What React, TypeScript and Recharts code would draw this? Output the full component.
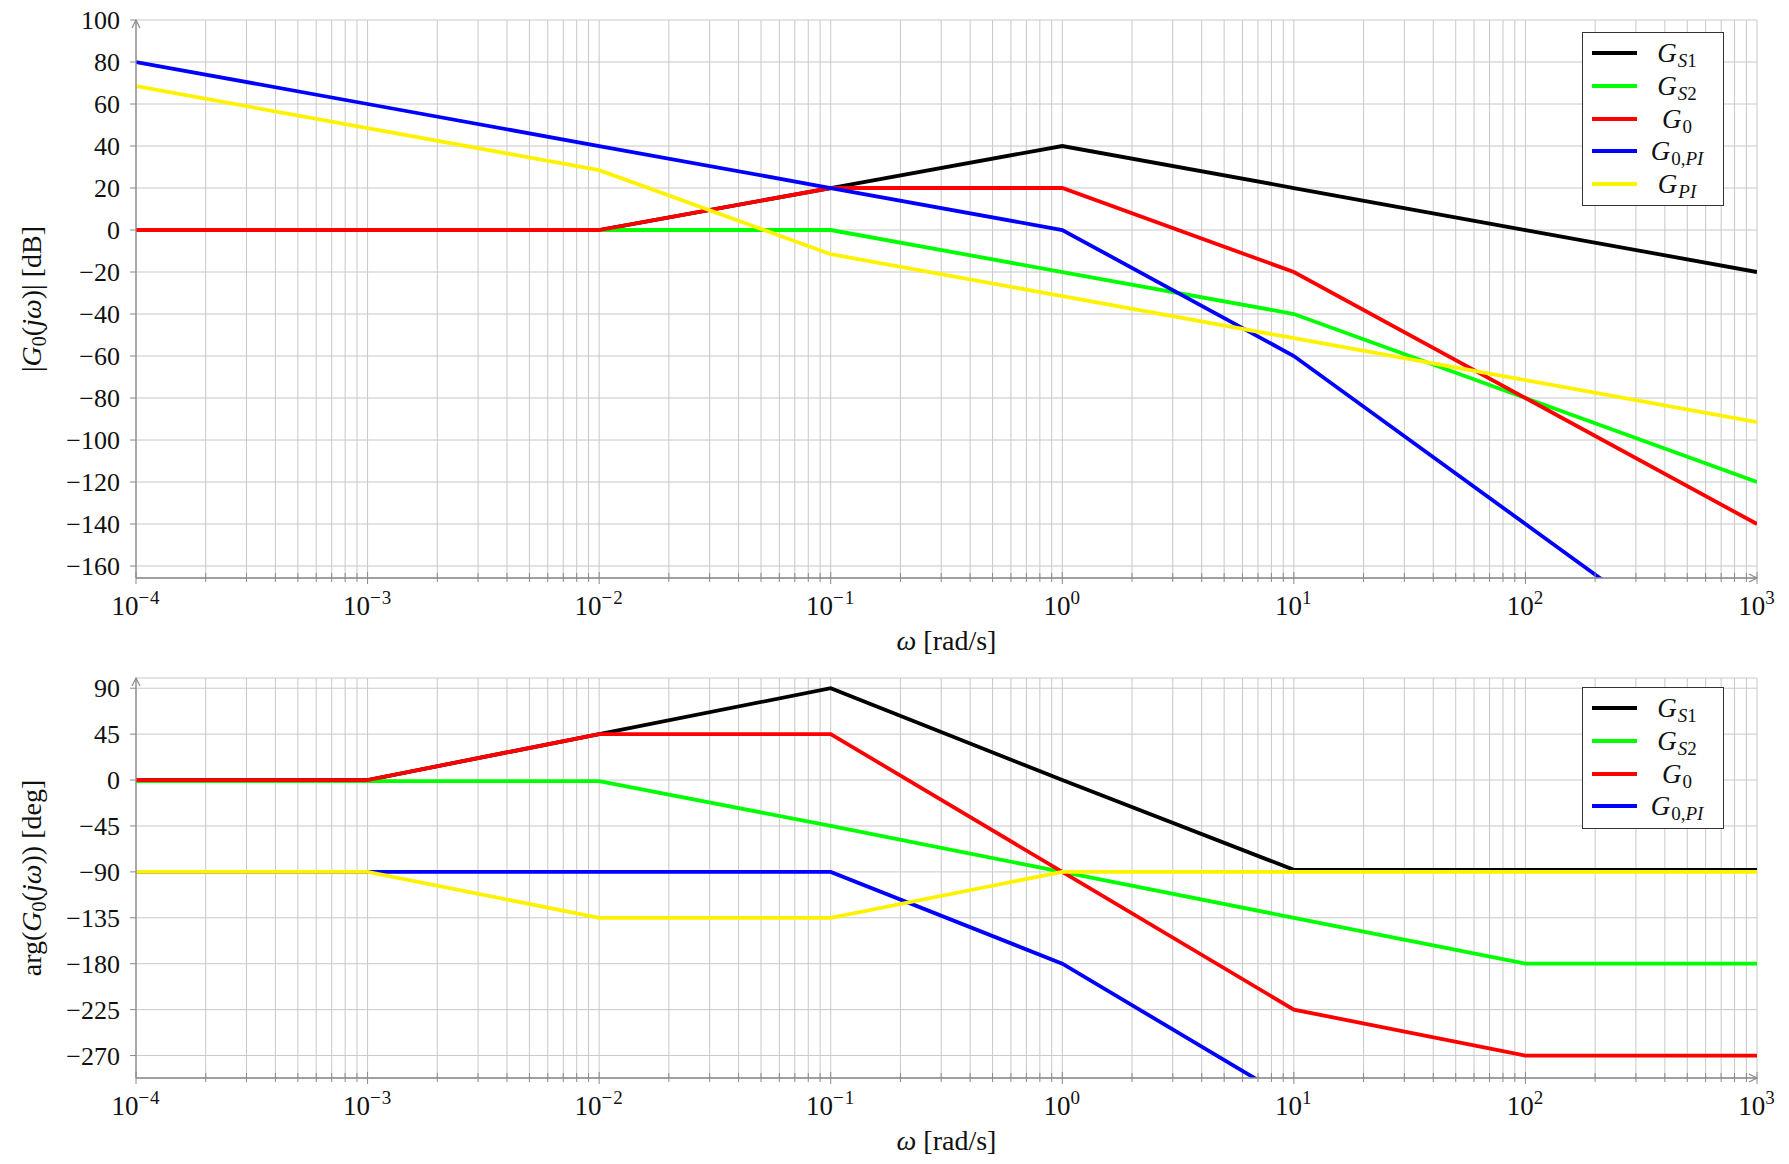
import React from 'react';
import { LineChart, Line, XAxis, YAxis, CartesianGrid, Legend, ReferenceDot } from 'recharts';

// ---------- data ----------
const omega = [1e-4, 1e-3, 1e-2, 1e-1, 1, 10, 100, 1000];

// magnitude [dB]
const magGS1 = [0, 0, 0, 20, 40, 20, 0, -20];
const magGS2 = [0, 0, 0, 0, -20, -40, -80, -120];
const magG0 = [0, 0, 0, 20, 20, -20, -80, -140];
const magG0PI = [80, 60, 40, 20, 0, -60, -140, -220];
const magGPI = [68.5, 48.5, 28.5, -11.5, -31.5, -51.5, -71.5, -91.5];

// phase [deg]
const phGS1 = [0, 0, 45, 90, 0, -88, -88, -88];
const phGS2 = [-1, -1, -1, -45, -90, -135, -180, -180];
const phG0 = [0, 0, 45, 45, -90, -225, -270, -270];
const phG0PI = [-90, -90, -90, -90, -180, -315, -360, -360];
const phGPI = [-90, -90, -135, -135, -90, -90, -90, -90];

const xExponents = [-4, -3, -2, -1, 0, 1, 2, 3];
const magTicks = [100, 80, 60, 40, 20, 0, -20, -40, -60, -80, -100, -120, -140, -160];
const phaseTicks = [90, 45, 0, -45, -90, -135, -180, -225, -270];
const magDomain = [-165.7, 100];
const phaseDomain = [-292, 100];

const seriesKeys = ['S1', 'S2', 'Z', 'ZPI', 'PI'];
const seriesSubs = ['S1', 'S2', '0', '0,PI', 'PI'];
const seriesColors = ['#000000', '#00ff00', '#ff0000', '#0000ff', '#fff200'];

const magData = omega.map((w, i) => ({ w, S1: magGS1[i], S2: magGS2[i], Z: magG0[i], ZPI: magG0PI[i], PI: magGPI[i] }));
const phaseData = omega.map((w, i) => ({ w, S1: phGS1[i], S2: phGS2[i], Z: phG0[i], ZPI: phG0PI[i], PI: phGPI[i] }));

const majorTicks = xExponents.map((e) => Math.pow(10, e));
const xTicks: number[] = [];
xExponents.forEach((e, idx) => {
  xTicks.push(Math.pow(10, e));
  if (idx < xExponents.length - 1) {
    for (let k = 2; k <= 9; k++) xTicks.push(k * Math.pow(10, e));
  }
});

const FONT = '"Liberation Serif", "DejaVu Serif", serif';
const AXIS = '#8a8a8a';
const GRID = '#c8c8c8';

const fmtNum = (v: number) => (v < 0 ? '\u2212' + Math.abs(v) : String(v));

const XTick = (props: any) => {
  const { x, y, payload } = props;
  const v = payload.value;
  const e = Math.round(Math.log10(v));
  const isMajor = majorTicks.some((m) => Math.abs(m - v) < m * 1e-6);
  if (!isMajor) {
    return <line x1={x} x2={x} y1={y - 5} y2={y + 4} stroke={AXIS} strokeWidth={1} />;
  }
  return (
    <g>
      <line x1={x} x2={x} y1={y - 6} y2={y + 6} stroke={AXIS} strokeWidth={1} />
      <text x={x} y={y + 37} textAnchor="middle" fontFamily={FONT} fontSize={27} fill="#111">
        <tspan>10</tspan>
        <tspan dy={-11} fontSize={19} letterSpacing={1}>{fmtNum(e)}</tspan>
      </text>
    </g>
  );
};

const YTick = (props: any) => {
  const { x, y, payload } = props;
  return (
    <g>
      <line x1={x - 6} x2={x} y1={y} y2={y} stroke={AXIS} strokeWidth={1} />
      <text x={x - 16} y={y + 9} textAnchor="end" fontFamily={FONT} fontSize={26} fill="#111">
        {fmtNum(payload.value)}
      </text>
    </g>
  );
};

const XTitle = (props: any) => {
  const vb = props.viewBox || { x: 136, y: 578, width: 1621 };
  const cx = vb.x + vb.width / 2;
  return (
    <text x={cx} y={vb.y + 72} textAnchor="middle" fontFamily={FONT} fontSize={28} fill="#111">
      <tspan fontStyle="italic">ω</tspan>
      <tspan> [rad/s]</tspan>
    </text>
  );
};

const makeYTitle = (kind: 'mag' | 'phase') => (props: any) => {
  const vb = props.viewBox || { x: 0, y: 20, width: 136, height: 558 };
  const cx = 41;
  const cy = vb.y + vb.height / 2;
  return (
    <text
      x={cx}
      y={cy}
      transform={`rotate(-90 ${cx} ${cy})`}
      textAnchor="middle"
      fontFamily={FONT}
      fontSize={28}
      fill="#111"
    >
      {kind === 'mag' ? (
        <>
          <tspan>|</tspan>
          <tspan fontStyle="italic">G</tspan>
          <tspan fontSize={20} dy={5}>0</tspan>
          <tspan dy={-5}>(</tspan>
          <tspan fontStyle="italic">jω</tspan>
          <tspan>)| [dB]</tspan>
        </>
      ) : (
        <>
          <tspan>arg(</tspan>
          <tspan fontStyle="italic">G</tspan>
          <tspan fontSize={20} dy={5}>0</tspan>
          <tspan dy={-5}>(</tspan>
          <tspan fontStyle="italic">jω</tspan>
          <tspan>)) [deg]</tspan>
        </>
      )}
    </text>
  );
};

const renderSub = (s: string) =>
  s.split('').map((ch, i) => (
    <span key={i} style={{ fontStyle: /[A-Za-z]/.test(ch) ? 'italic' : 'normal' }}>
      {ch}
    </span>
  ));

const LegendBox = (props: any) => {
  const items = (props.payload || [])
    .filter((p: any) => p.type !== 'none')
    .slice()
    .sort((a: any, b: any) => seriesKeys.indexOf(a.dataKey) - seriesKeys.indexOf(b.dataKey));
  return (
    <div
      style={{
        width: 142,
        boxSizing: 'border-box',
        border: '1.3px solid #333',
        background: '#fff',
        padding: '4px 0 5px 0',
        fontFamily: FONT,
        color: '#111',
      }}
    >
      {items.map((it: any) => {
        const idx = seriesKeys.indexOf(it.dataKey);
        return (
          <div key={it.dataKey} style={{ height: 32.7, display: 'flex', alignItems: 'center' }}>
            <div style={{ marginLeft: 9, width: 45, height: 4, background: it.color }} />
            <div style={{ width: 80, textAlign: 'center', fontSize: 27, lineHeight: '24px', whiteSpace: 'nowrap' }}>
              <span style={{ fontStyle: 'italic' }}>G</span>
              <span style={{ fontSize: 19, lineHeight: '18px', position: 'relative', top: 5, marginLeft: 1 }}>
                {renderSub(seriesSubs[idx])}
              </span>
            </div>
          </div>
        );
      })}
    </div>
  );
};

const ArrowRight = (p: any) => (
  <path d={`M${p.cx - 8},${p.cy - 4} L${p.cx},${p.cy} L${p.cx - 8},${p.cy + 4}`} fill="none" stroke={AXIS} strokeWidth={1.2} />
);
const ArrowUp = (p: any) => (
  <path d={`M${p.cx - 4},${p.cy + 8} L${p.cx},${p.cy} L${p.cx + 4},${p.cy + 8}`} fill="none" stroke={AXIS} strokeWidth={1.2} />
);

const renderLines = (hideLast: boolean) =>
  seriesKeys.map((k, i) => (
    <Line
      key={k}
      type="linear"
      dataKey={k}
      name={k}
      stroke={seriesColors[i]}
      strokeWidth={3.8}
      dot={false}
      activeDot={false}
      isAnimationActive={false}
      legendType={hideLast && k === 'PI' ? 'none' : 'line'}
    />
  ));

const Panel = (props: {
  data: any[];
  height: number;
  top: number;
  xHeight: number;
  domain: number[];
  ticks: number[];
  kind: 'mag' | 'phase';
  legendTop: number;
  hideLast: boolean;
}) => (
  <LineChart
    width={1789}
    height={props.height}
    data={props.data}
    margin={{ top: props.top, right: 32, bottom: 0, left: 0 }}
  >
    <CartesianGrid stroke={GRID} strokeWidth={1} />
    <XAxis
      dataKey="w"
      type="number"
      scale="log"
      domain={[1e-4, 1e3]}
      allowDataOverflow
      ticks={xTicks}
      interval={0}
      tick={<XTick />}
      tickLine={false}
      tickSize={0}
      tickMargin={0}
      height={props.xHeight}
      axisLine={{ stroke: AXIS, strokeWidth: 1.3 }}
      label={XTitle}
    />
    <YAxis
      type="number"
      domain={props.domain}
      allowDataOverflow
      ticks={props.ticks}
      interval={0}
      tick={<YTick />}
      tickLine={false}
      tickSize={0}
      tickMargin={0}
      width={136}
      axisLine={{ stroke: AXIS, strokeWidth: 1.3 }}
      label={makeYTitle(props.kind)}
    />
    {renderLines(props.hideLast)}
    <ReferenceDot x={1e3} y={props.domain[0]} r={0} ifOverflow="visible" shape={ArrowRight} />
    <ReferenceDot x={1e-4} y={props.domain[1]} r={0} ifOverflow="visible" shape={ArrowUp} />
    <Legend
      layout="vertical"
      align="center"
      verticalAlign="middle"
      content={LegendBox}
      wrapperStyle={{ left: 1582, top: props.legendTop, width: 142 }}
    />
  </LineChart>
);

export default function App() {
  return (
    <div style={{ position: 'absolute', left: 0, top: 0, width: 1789, height: 1164, background: '#fff' }}>
      <div style={{ position: 'absolute', left: 0, top: 0 }}>
        <Panel data={magData} height={660} top={20} xHeight={82} domain={magDomain} ticks={magTicks} kind="mag" legendTop={32} hideLast={false} />
      </div>
      <div style={{ position: 'absolute', left: 0, top: 660 }}>
        <Panel data={phaseData} height={504} top={18} xHeight={86} domain={phaseDomain} ticks={phaseTicks} kind="phase" legendTop={27} hideLast={true} />
      </div>
    </div>
  );
}
